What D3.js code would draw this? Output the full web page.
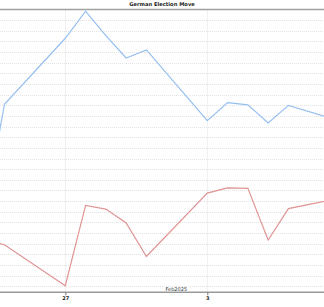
<!DOCTYPE html>
<html>
<head>
<meta charset="utf-8">
<script src="https://cdn.jsdelivr.net/npm/d3@7"></script>
<style>
  body { margin: 0; background: #fff; }
  text { font-family: "DejaVu Sans", sans-serif; }
</style>
</head>
<body>
<script>
// Trading days shown on the chart
const dates = ["2025-01-23", "2025-01-24", "2025-01-27", "2025-01-28", "2025-01-29", "2025-01-30",
    "2025-01-31", "2025-02-03", "2025-02-04", "2025-02-05", "2025-02-06", "2025-02-07", "2025-02-10"];

// Series values (grid units)
const upperSeries = [6.5, 17.1, 23.3, 25.85, 23.55, 21.45, 22.2, 15.55, 17.25, 17.05, 15.35, 17.0, 15.25];
const lowerSeries = [4.35, 3.9, 0.06, 7.6, 7.25, 5.95, 2.8, 8.75, 9.25, 9.2, 4.35, 7.3, 8.45];

// Tick labels
const tickDates = ["2025-01-27", "2025-02-03"];
const tickLabels = ["27", "3"];
const monthLabel = "Feb2025";
const title = "German Election Move";

const width = 324;
const height = 307;
const plotTop = 9.5;
const plotBottom = 292.3;

const parse = d3.utcParse("%Y-%m-%d");

const svg = d3.select("body")
    .append("svg")
    .attr("width", width)
    .attr("height", height);

// X scale: linear in time, extrapolated beyond the two anchor days
const x = d3.scaleUtc()
    .domain([parse("2025-01-27"), parse("2025-02-03")])
    .range([65.3, 207.3]);

// Y scale in grid units
const y = d3.scaleLinear()
    .domain([-0.563, 26])
    .range([plotBottom, plotTop]);

svg.append("defs").append("clipPath")
    .attr("id", "plot")
    .append("rect")
    .attr("x", 0)
    .attr("y", plotTop)
    .attr("width", width)
    .attr("height", plotBottom - plotTop);

// Horizontal dotted grid
svg.append("g")
    .selectAll("line")
    .data(d3.range(0, 26))
    .join("line")
    .attr("x1", 0)
    .attr("x2", width)
    .attr("y1", (d) => Math.round(y(d)) + 0.5)
    .attr("y2", (d) => Math.round(y(d)) + 0.5)
    .attr("stroke", "#e2e2e2")
    .attr("stroke-dasharray", "1,1");

// Vertical dotted grid
svg.append("g")
    .selectAll("line")
    .data(tickDates)
    .join("line")
    .attr("x1", (d) => Math.round(x(parse(d))) + 0.5)
    .attr("x2", (d) => Math.round(x(parse(d))) + 0.5)
    .attr("y1", plotTop)
    .attr("y2", plotBottom)
    .attr("stroke", "#e2e2e2")
    .attr("stroke-dasharray", "1,1");

// Top border
svg.append("line")
    .attr("x1", 0).attr("x2", width)
    .attr("y1", plotTop).attr("y2", plotTop)
    .attr("stroke", "#a0a0a0")
    .attr("stroke-width", 1.4);

// Bottom axis
const xAxis = svg.append("g")
    .attr("transform", `translate(0, ${plotBottom})`)
    .call(d3.axisBottom(x)
        .tickValues(tickDates.map(parse))
        .tickFormat((d, i) => tickLabels[i])
        .tickSize(3)
        .tickPadding(1));
xAxis.select(".domain")
    .attr("d", `M0,0H${width}`)
    .attr("stroke", "#999")
    .attr("stroke-width", 1.4);
xAxis.selectAll(".tick line").attr("stroke", "#777");
xAxis.selectAll(".tick text")
    .attr("font-size", 5)
    .attr("font-weight", "bold")
    .attr("font-family", "DejaVu Sans, sans-serif")
    .attr("fill", "#222");

svg.append("text")
    .attr("x", 176.3)
    .attr("y", 291)
    .attr("text-anchor", "middle")
    .attr("font-size", 5)
    .attr("fill", "#333")
    .text(monthLabel);

// Title
svg.append("text")
    .attr("x", 162)
    .attr("y", 6)
    .attr("text-anchor", "middle")
    .attr("font-size", 5.2)
    .attr("font-weight", "bold")
    .attr("fill", "#222")
    .text(title);

// Lines
const line = d3.line()
    .x((d, i) => x(parse(dates[i])))
    .y((d) => y(d));

const lines = svg.append("g").attr("clip-path", "url(#plot)");

lines.append("path")
    .datum(upperSeries)
    .attr("fill", "none")
    .attr("stroke", "#96bff0")
    .attr("stroke-width", 1.2)
    .attr("d", line);

lines.append("path")
    .datum(lowerSeries)
    .attr("fill", "none")
    .attr("stroke", "#e09494")
    .attr("stroke-width", 1.2)
    .attr("d", line);
</script>
</body>
</html>
